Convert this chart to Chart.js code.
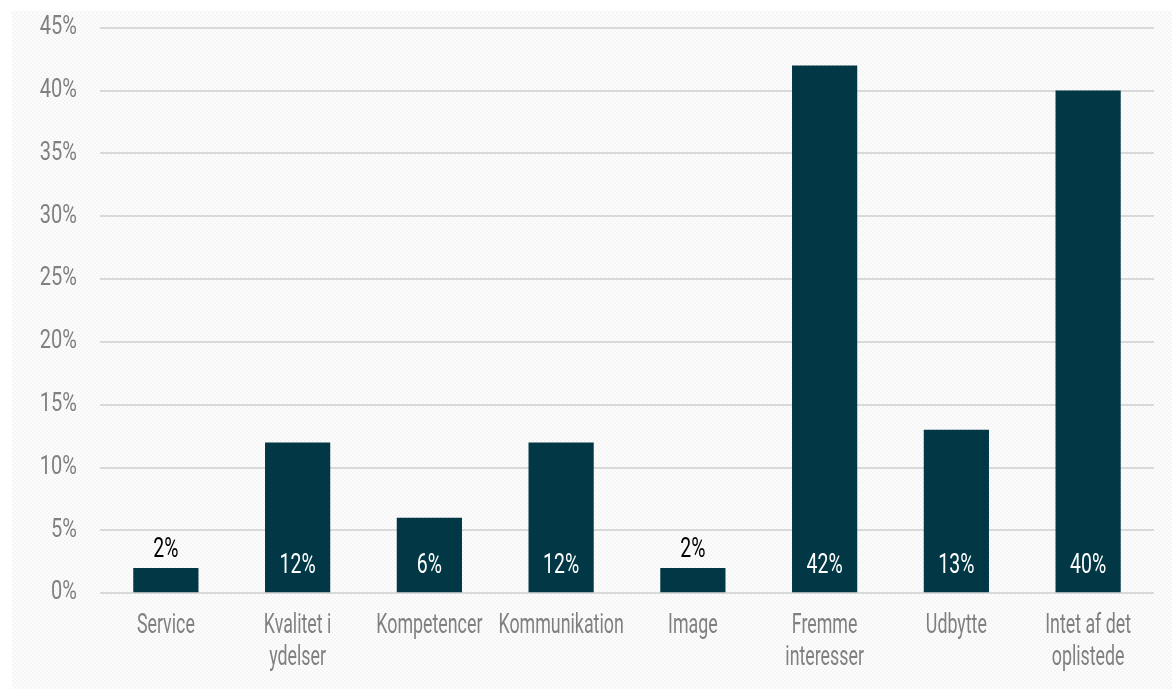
<!DOCTYPE html>
<html>
<head>
<meta charset="utf-8">
<script src="https://cdn.jsdelivr.net/npm/chart.js@4.4.1/dist/chart.umd.min.js"></script>
<style>
  html, body { margin: 0; padding: 0; background: #ffffff; }
  #wrap { width: 1172px; height: 689px; position: relative; }
</style>
</head>
<body>
<div id="wrap"><canvas id="c" width="1172" height="689"></canvas></div>
<script>
const categories = [
  'Service',
  ['Kvalitet i', 'ydelser'],
  'Kompetencer',
  'Kommunikation',
  'Image',
  ['Fremme', 'interesser'],
  'Udbytte',
  ['Intet af det', 'oplistede']
];
const shares = [2, 12, 6, 12, 2, 42, 13, 40];
const yTicks = [0, 5, 10, 15, 20, 25, 30, 35, 40, 45];

const FONT = "Roboto, 'Liberation Sans', sans-serif";
const BAR = '#023846';
const GREY = '#808080';

// light checkered backdrop behind the plot
const backdrop = {
  id: 'backdrop',
  beforeDraw(chart) {
    const ctx = chart.ctx;
    const p = document.createElement('canvas');
    p.width = 4; p.height = 4;
    const pc = p.getContext('2d');
    pc.fillStyle = '#fdfdfd'; pc.fillRect(0, 0, 4, 4);
    pc.fillStyle = '#f5f5f5';
    pc.fillRect(0, 0, 2, 2); pc.fillRect(2, 2, 2, 2);
    ctx.save();
    ctx.fillStyle = ctx.createPattern(p, 'repeat');
    ctx.fillRect(12, 11, chart.width - 12, chart.height - 11);
    ctx.restore();
  }
};

// condensed text: the face is squeezed horizontally to a narrow display look
function narrow(ctx, text, x, y, size, squeeze, align, color) {
  ctx.save();
  ctx.font = size + 'px ' + FONT;
  ctx.fillStyle = color;
  ctx.textAlign = align;
  ctx.textBaseline = 'middle';
  ctx.translate(x, y);
  ctx.scale(squeeze, 1);
  ctx.fillText(text, 0, 0);
  ctx.restore();
}

// axis labels and value labels, placed from the chart's own scales
const labels = {
  id: 'labels',
  afterDatasetsDraw(chart) {
    const ctx = chart.ctx;
    const xs = chart.scales.x, ys = chart.scales.y;
    const area = chart.chartArea;

    yTicks.forEach(v => {
      narrow(ctx, v + '%', area.left - 23, ys.getPixelForValue(v), 25, 0.8, 'right', GREY);
    });

    categories.forEach((c, i) => {
      const lines = Array.isArray(c) ? c : [c];
      const x = xs.getPixelForValue(i);
      lines.forEach((t, k) => narrow(ctx, t, x, area.bottom + 33 + k * 32, 27, 0.66, 'center', GREY));
    });

    const meta = chart.getDatasetMeta(0);
    meta.data.forEach((bar, i) => {
      const text = shares[i] + '%';
      if (bar.base - bar.y > 40) {
        narrow(ctx, text, bar.x, bar.base - 26, 27, 0.72, 'center', '#ffffff');
      } else {
        narrow(ctx, text, bar.x, bar.y - 18, 27, 0.72, 'center', '#000000');
      }
    });
  }
};

new Chart(document.getElementById('c'), {
  type: 'bar',
  data: {
    labels: categories,
    datasets: [{
      data: shares,
      backgroundColor: BAR,
      borderWidth: 0,
      barPercentage: 0.495,
      categoryPercentage: 1.0
    }]
  },
  options: {
    responsive: false,
    animation: false,
    layout: { padding: { top: 20, right: 18, left: 0, bottom: 0 } },
    plugins: { legend: { display: false }, tooltip: { enabled: false } },
    scales: {
      x: {
        grid: { display: false },
        border: { display: false },
        ticks: {
          color: 'rgba(0,0,0,0)',
          font: { family: FONT, size: 22 },
          padding: 17.5,
          maxRotation: 0,
          autoSkip: false
        }
      },
      y: {
        min: 0,
        max: yTicks[yTicks.length - 1],
        afterBuildTicks(scale) { scale.ticks = yTicks.map(v => ({ value: v })); },
        afterFit(scale) { scale.width = 100; },
        grid: { color: '#d9d9d9', lineWidth: 2, drawTicks: false },
        border: { display: false },
        ticks: {
          color: 'rgba(0,0,0,0)',
          font: { family: FONT, size: 8 },
          padding: 23,
          callback: v => v + '%'
        }
      }
    }
  },
  plugins: [backdrop, labels]
});
</script>
</body>
</html>
